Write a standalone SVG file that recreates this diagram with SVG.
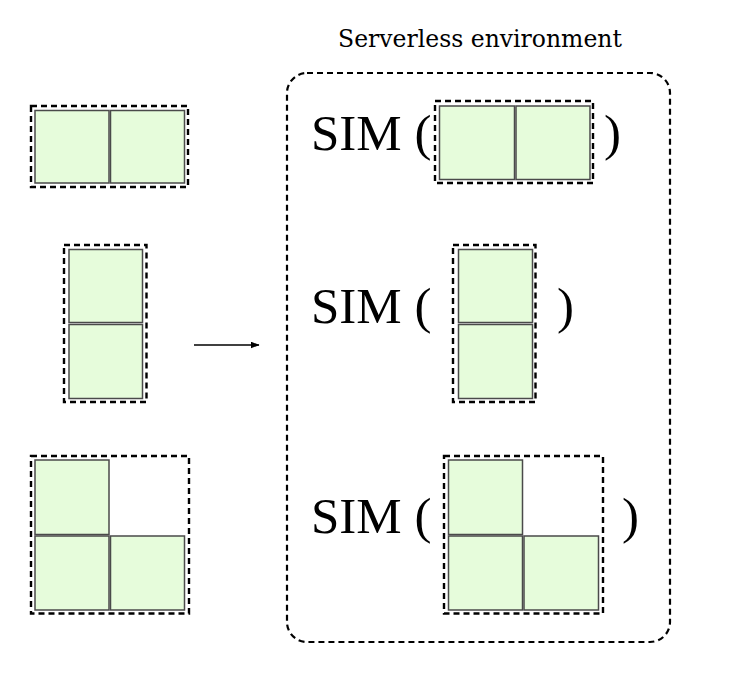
<svg xmlns="http://www.w3.org/2000/svg" width="735" height="691" viewBox="0 0 735 691">
<style>
.sq{fill:#e6fcdb;stroke:#4a4a4a;stroke-width:1.5}
.grp{fill:none;stroke:#000;stroke-width:2.4;stroke-dasharray:6 4}
.env{fill:none;stroke:#000;stroke-width:2.2;stroke-dasharray:6 4}
.sim{font-family:"Liberation Serif",serif;font-size:51px;fill:#000}
.title{font-family:"DejaVu Serif",serif;font-size:23.5px;fill:#000}
</style>
<defs>
<marker id="arr" markerWidth="9" markerHeight="7" refX="8.5" refY="3.5" orient="auto" markerUnits="userSpaceOnUse">
<path d="M0,0 L9,3.5 L0,7 Z" fill="#000"/>
</marker>
</defs>
<rect width="735" height="691" fill="#fff"/>
<g id="left-pair">
<rect class="grp" x="31" y="106" width="157" height="81"/>
<rect class="sq" x="35" y="110.5" width="74" height="72.5"/>
<rect class="sq" x="110.5" y="110.5" width="74" height="72.5"/>
</g>
<g id="left-vertical">
<rect class="grp" x="64" y="245" width="82.5" height="157"/>
<rect class="sq" x="69" y="249.5" width="73.5" height="73"/>
<rect class="sq" x="69" y="324.5" width="73.5" height="74"/>
</g>
<g id="left-l">
<rect class="grp" x="31" y="456" width="158" height="157.5"/>
<rect class="sq" x="35" y="460" width="74" height="74.5"/>
<rect class="sq" x="35" y="536" width="74" height="74"/>
<rect class="sq" x="110.5" y="536" width="74" height="74"/>
</g>
<g id="connectors">
<line x1="194" y1="345" x2="259" y2="345" stroke="#000" stroke-width="1.3" marker-end="url(#arr)"/>
</g>
<g id="env">
<text class="title" x="480" y="47" text-anchor="middle">Serverless environment</text>
<rect class="env" x="287" y="73" width="383" height="569" rx="20" ry="20"/>
</g>
<g id="sim-pair">
<text class="sim" x="311" y="150">SIM (</text>
<rect class="grp" x="435" y="101" width="158" height="82"/>
<rect class="sq" x="439.5" y="106" width="75" height="73.5"/>
<rect class="sq" x="516" y="106" width="74" height="73.5"/>
<text class="sim" x="604" y="150">)</text>
</g>
<g id="sim-vertical">
<text class="sim" x="311" y="323">SIM (</text>
<rect class="grp" x="453" y="245" width="82.5" height="157"/>
<rect class="sq" x="458.5" y="249.5" width="74" height="73"/>
<rect class="sq" x="458.5" y="324.5" width="74" height="74"/>
<text class="sim" x="557" y="323">)</text>
</g>
<g id="sim-l">
<text class="sim" x="311" y="533">SIM (</text>
<rect class="grp" x="444" y="456" width="159" height="157.5"/>
<rect class="sq" x="448.5" y="460" width="74" height="74.5"/>
<rect class="sq" x="448.5" y="536" width="74" height="74"/>
<rect class="sq" x="524" y="536" width="74.5" height="74"/>
<text class="sim" x="622" y="533">)</text>
</g>
</svg>
